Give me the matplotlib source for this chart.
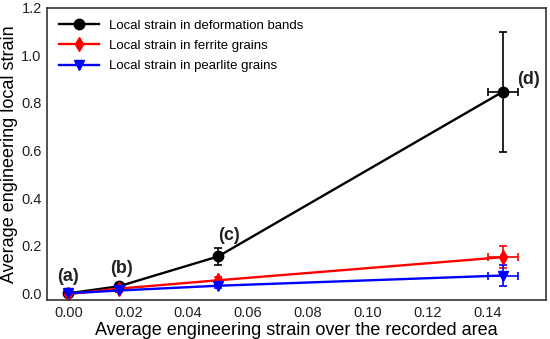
import numpy as np
import matplotlib as mpl
mpl.use('Agg')
import matplotlib.pyplot as plt

plt.rcParams['font.family'] = ['Liberation Sans', 'DejaVu Sans']

# recorded area strain
x_strain = [0.0, 0.017, 0.05, 0.145]
x_err = [0.0, 0.0, 0.0, 0.005]

bands = [0.0, 0.03, 0.155, 0.847]
bands_err = [0.005, 0.008, 0.037, 0.252]
ferrite = [-0.003, 0.02, 0.055, 0.152]
ferrite_err = [0.005, 0.006, 0.012, 0.045]
pearlite = [0.0, 0.012, 0.032, 0.075]
pearlite_err = [0.004, 0.005, 0.008, 0.045]

labels = ['(a)', '(b)', '(c)', '(d)']
label_pos = [(0.0, 0.07), (0.0177, 0.105), (0.0537, 0.242), (0.1537, 0.9)]

fig = plt.figure(figsize=(5.5, 3.39), dpi=100)
ax = fig.add_axes([0.086, 0.115, 0.907, 0.862])

kw = dict(markersize=7.5, capsize=3, lw=1.7, elinewidth=1.2, capthick=1.2)
h1 = ax.errorbar(x_strain, bands, yerr=bands_err, xerr=x_err, color='black', marker='o', **kw)
h2 = ax.errorbar(x_strain, ferrite, yerr=ferrite_err, xerr=x_err, color='red', marker='d', **kw)
h3 = ax.errorbar(x_strain, pearlite, yerr=pearlite_err, xerr=x_err, color='blue', marker='v', **kw)

for lab, (lx, ly) in zip(labels, label_pos):
    ax.text(lx, ly, lab, fontsize=13, fontweight='bold', color='#222222',
            ha='center', va='center')

ax.set_xlim(-0.007, 0.1595)
ax.set_ylim(-0.028, 1.2)
ax.set_xticks(np.arange(0, 0.15, 0.02))
ax.set_xticklabels(['%.2f' % v for v in np.arange(0, 0.15, 0.02)])
ax.set_yticks(np.arange(0, 1.21, 0.2))
ax.set_yticklabels(['%.1f' % v for v in np.arange(0, 1.21, 0.2)])
ax.tick_params(labelsize=10.5, length=0, colors='#222222', pad=4)
for s in ax.spines.values():
    s.set_color('#333333')
    s.set_linewidth(1.2)

ax.set_xlabel('Average engineering strain over the recorded area', fontsize=13, labelpad=2)
ax.set_ylabel('Average engineering local strain', fontsize=13, labelpad=2)

ax.legend([h1[0], h2[0], h3[0]],
          ['Local strain in deformation bands', 'Local strain in ferrite grains',
           'Local strain in pearlite grains'],
          loc='upper left', frameon=False, fontsize=9.5, handlelength=3.0,
          handletextpad=0.8, borderaxespad=0.5, labelspacing=0.6)

plt.savefig('out.png', dpi=100)
